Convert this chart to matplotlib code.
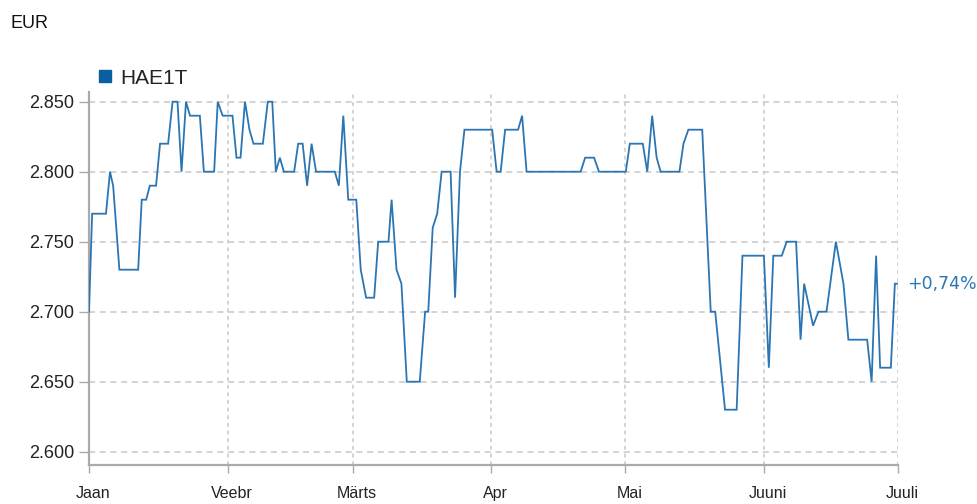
import matplotlib
matplotlib.use("Agg")
import matplotlib.pyplot as plt
from matplotlib.lines import Line2D
from matplotlib import font_manager
import matplotlib.transforms as mtransforms

# Data: day offset from 1 Jan, price (EUR)
days = [0.0, 0.7, 3.8, 4.7, 5.4, 6.8, 11.0, 11.8, 12.8, 13.6, 15.0, 15.9, 17.7, 18.7,
        19.8, 20.7, 21.7, 22.6, 24.8, 25.7, 28.0, 28.8, 29.9, 32.1, 33.0, 33.9, 34.9,
        35.9, 36.8, 38.9, 40.0, 41.0, 41.8, 42.7, 43.6, 45.9, 46.8, 47.8, 48.8, 49.8,
        50.8, 55.0, 55.9, 56.9, 58.0, 59.8, 60.8, 62.0, 63.8, 64.7, 67.0, 67.7, 68.8,
        69.9, 71.1, 74.0, 75.2, 75.9, 76.9, 77.9, 78.9, 80.9, 81.9, 83.0, 84.0, 90.2,
        91.2, 92.1, 93.1, 96.0, 96.9, 97.9, 110.0, 111.0, 113.0, 114.1, 120.1, 121.0,
        123.9, 124.9, 126.0, 127.0, 127.9, 132.1, 133.0, 134.1, 137.2, 139.1, 140.1,
        142.3, 144.9, 146.2, 151.0, 152.1, 153.1, 155.0, 156.1, 158.2, 159.2, 160.0,
        162.0, 163.2, 165.0, 167.1, 168.8, 169.9, 174.1, 175.1, 176.1, 177.0, 179.4,
        180.3, 181.0]
prices = [2.70, 2.77, 2.77, 2.80, 2.79, 2.73, 2.73, 2.78, 2.78, 2.79, 2.79, 2.82, 2.82, 2.85,
          2.85, 2.80, 2.85, 2.84, 2.84, 2.80, 2.80, 2.85, 2.84, 2.84, 2.81, 2.81, 2.85,
          2.83, 2.82, 2.82, 2.85, 2.85, 2.80, 2.81, 2.80, 2.80, 2.82, 2.82, 2.79, 2.82,
          2.80, 2.80, 2.79, 2.84, 2.78, 2.78, 2.73, 2.71, 2.71, 2.75, 2.75, 2.78, 2.73,
          2.72, 2.65, 2.65, 2.70, 2.70, 2.76, 2.77, 2.80, 2.80, 2.71, 2.80, 2.83, 2.83,
          2.80, 2.80, 2.83, 2.83, 2.84, 2.80, 2.80, 2.81, 2.81, 2.80, 2.80, 2.82,
          2.82, 2.80, 2.84, 2.81, 2.80, 2.80, 2.82, 2.83, 2.83, 2.70, 2.70,
          2.63, 2.63, 2.74, 2.74, 2.66, 2.74, 2.74, 2.75, 2.75, 2.68, 2.72,
          2.69, 2.70, 2.70, 2.75, 2.72, 2.68, 2.68, 2.65, 2.74, 2.66, 2.66,
          2.72, 2.72]
month_pos = [0, 31, 59, 90, 120, 151, 181]
month_labels = ["Jaan", "Veebr", "Märts", "Apr", "Mai", "Juuni", "Juuli"]
y_ticks = [2.600, 2.650, 2.700, 2.750, 2.800, 2.850]
series_name = "HAE1T"
change_label = "+0,74%"

plt.rcParams['font.family'] = ['Liberation Sans', 'DejaVu Sans']

try:
    font_manager.findfont('Liberation Sans Narrow', fallback_to_default=False)
    xfam, xsize = ['Liberation Sans Narrow', 'DejaVu Sans'], 14
except Exception:
    xfam, xsize = ['Liberation Sans', 'DejaVu Sans'], 11.5

W, H = 978, 504
fig = plt.figure(figsize=(W / 100, H / 100), dpi=100)
ax = fig.add_axes([89 / W, 1 - 465 / H, (898 - 89) / W, (465 - 92) / H])

line_color = '#2b76b2'
ax.plot(days, prices, color=line_color, lw=1.3, solid_joinstyle='miter', zorder=3)

ax.set_xlim(0, 181)
ax.set_ylim(2.6 - 13.3 / 1400, 2.85 + 9.7 / 1400)

ax.set_yticks(y_ticks)
ax.set_yticklabels([f"{v:.3f}" for v in y_ticks])
ax.set_xticks(month_pos)
ax.set_xticklabels(month_labels, family=xfam, fontsize=xsize)

for v in y_ticks:
    ax.axhline(v, color='#c8c8c8', lw=1.1, ls=(0, (4, 3)), zorder=1)
for p in month_pos[1:]:
    ax.axvline(p, color='#c8c8c8', lw=1.1, ls=(0, (2.5, 2.5)), zorder=1)

for s in ['top', 'right']:
    ax.spines[s].set_visible(False)
for s in ['left', 'bottom']:
    ax.spines[s].set_color('#aaaaaa')
    ax.spines[s].set_linewidth(1.6)

ax.tick_params(axis='y', length=7, width=1, color='#aaaaaa', pad=3.5,
               labelsize=13, labelcolor='#222222')
ax.tick_params(axis='x', length=6, width=1, color='#aaaaaa', pad=9,
               labelcolor='#222222')

shift = mtransforms.ScaledTranslation(4 / 100, 0, fig.dpi_scale_trans)
for lab in ax.get_xticklabels():
    lab.set_transform(lab.get_transform() + shift)

ax.annotate(change_label, xy=(days[-1], prices[-1]), xytext=(9, 0),
            textcoords='offset pixels', va='center', ha='left',
            color=line_color, fontsize=12.5, family=['DejaVu Sans'])

fig.text(11 / W, 1 - 23 / H, "EUR", fontsize=13, color='#111111', va='center', ha='left')

handle = Line2D([], [], marker='s', linestyle='none', color='#0a5fa0', markersize=8)
fig.legend([handle], [series_name], loc='center left',
           bbox_to_anchor=(95 / W, 1 - 78 / H), frameon=False,
           handletextpad=0.2, fontsize=15, borderaxespad=0, borderpad=0,
           handlelength=1.0, labelcolor='#222222')

fig.savefig("out.png", dpi=100)
